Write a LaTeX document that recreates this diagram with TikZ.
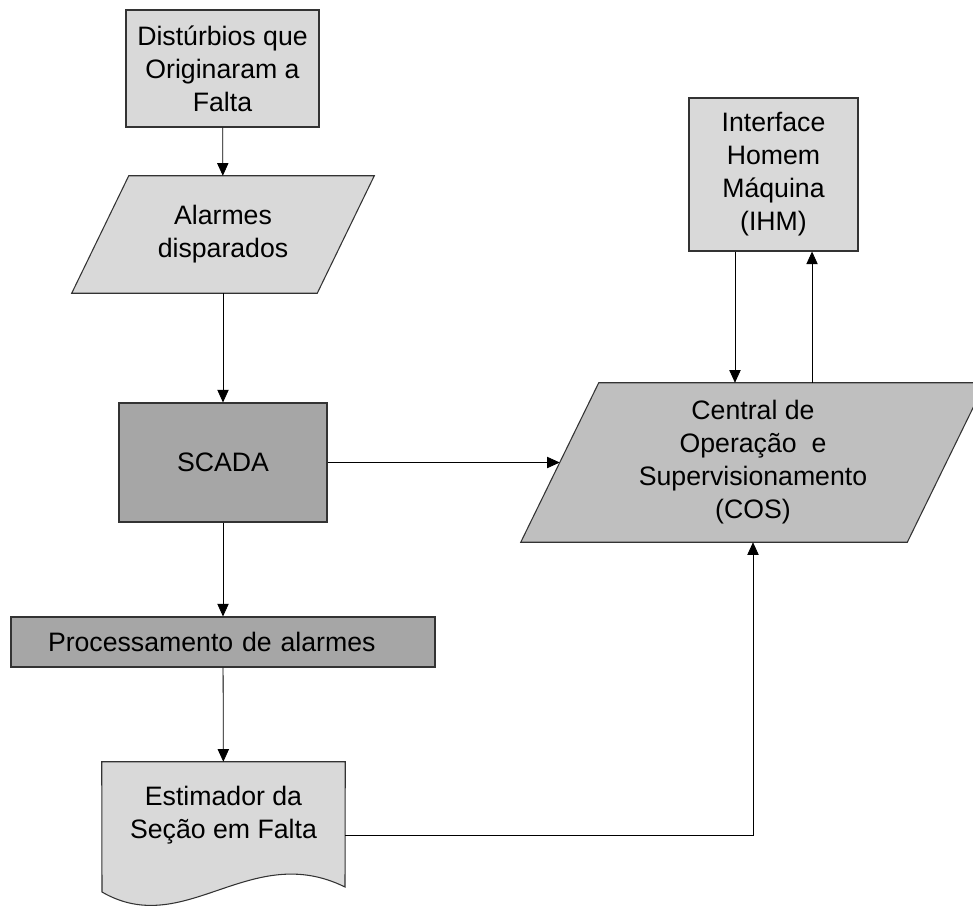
\documentclass[tikz,border=0pt]{standalone}
\usepackage{fontspec}
\setmainfont{Liberation Sans}
\usetikzlibrary{arrows.meta,backgrounds}
\begin{document}
\begin{tikzpicture}[x=0.75pt, y=-0.75pt, font=\fontsize{20}{24.75}\selectfont,
	main/.style = {draw=black!80, line width=0.8pt, align=center, inner sep=0pt},
	light/.style = {main, fill=black!15},
	dark/.style = {main, fill=black!35},
	io/.style = {align=center, inner sep=0pt},
	edge/.style = {draw=black!80, line width=0.8pt},
	link/.style = {line width=0.6pt, -{Triangle[length=9.5pt, width=8.5pt]}}]
	\useasboundingbox (0,0) rectangle (973,907);
	\node[light, minimum width=144.75pt, minimum height=87.75pt] (1) at (222.5,68.5) {Distúrbios que\\Originaram a\\Falta};
	\node[io, minimum width=183.75pt, minimum height=87.75pt] (2) at (223,234.5) {Alarmes\\disparados};
	\node[dark, minimum width=156pt, minimum height=89.25pt] (3) at (223,462.5) {SCADA};
	\node[dark, minimum height=37.5pt, text width=262.5pt, inner xsep=27.75pt, align=left] (4) at (223,642) {Processamento de alarmes};
	\node[io, minimum width=182.25pt, minimum height=79.5pt] (5) at (223.5,815) {Estimador da\\Seção em Falta};
	\node[light, minimum width=126.75pt, minimum height=114.75pt] (6) at (773.5,174.5) {Interface\\Homem\\Máquina\\(IHM)};
	\node[io, minimum width=289.5pt, minimum height=119.25pt] (7) at (753,462.5) {Central de\\Operação\ \ e\\Supervisionamento\\(COS)};
	\begin{scope}[on background layer]
		\draw[edge, fill=black!15] ([xshift=21.4pt]2.north west) -- ([xshift=21.4pt]2.north east) -- ([xshift=-21.4pt]2.south east) -- ([xshift=-21.4pt]2.south west) -- cycle;
		\draw[edge, fill=black!25] ([xshift=29.25pt]7.north west) -- ([xshift=29.25pt]7.north east) -- ([xshift=-29.25pt]7.south east) -- ([xshift=-29.25pt]7.south west) -- cycle;
		\draw[edge, fill=black!15] (5.north west) -- (5.north east) -- (345,887) .. controls (250,840) and (185,940) .. (102,892) -- cycle;
	\end{scope}
	\draw[link] (1) -- (2);
	\draw[link] (2) -- (3);
	\draw[link] (3) -- (4);
	\draw[link] (4) -- (5);
	\draw[link] (3) -- (7);
	\draw[link] ([yshift=-15pt]5.east) -| (7.south);
	\draw[link] ([xshift=-28.9pt]6.south) -- ([xshift=-28.9pt]6.south |- 7.north);
	\draw[link] ([xshift=28.9pt]6.south |- 7.north) -- ([xshift=28.9pt]6.south);
\end{tikzpicture}
\end{document}
